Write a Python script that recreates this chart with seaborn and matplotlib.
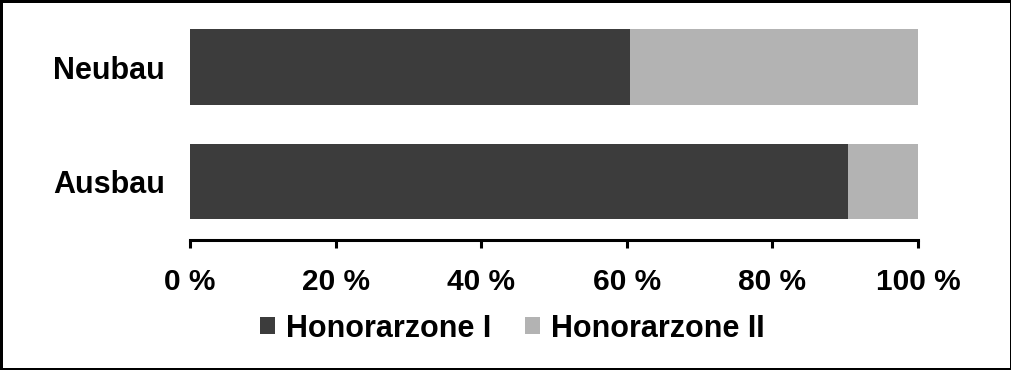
import matplotlib
matplotlib.use('Agg')
import matplotlib.pyplot as plt
import pandas as pd
import seaborn as sns

sns.set_style('white')
plt.rcParams['font.family'] = ['Liberation Sans', 'DejaVu Sans']
plt.rcParams['text.color'] = 'black'
plt.rcParams['xtick.color'] = 'black'
plt.rcParams['ytick.color'] = 'black'

categories = ['Neubau', 'Ausbau']
zone_1 = [60.4, 90.4]   # Honorarzone I, percent
zone_2 = [39.6, 9.6]    # Honorarzone II, percent
series_names = ['Honorarzone I', 'Honorarzone II']
x_ticks = [0, 20, 40, 60, 80, 100]

dark = '#3c3c3c'
light = '#b3b3b3'

df = pd.DataFrame({'kategorie': categories, 'z1': zone_1, 'z2': zone_2})
df['total'] = df.z1 + df.z2

fig = plt.figure(figsize=(10.12, 3.7), dpi=100, linewidth=2.5, edgecolor='black')
ax = fig.add_axes([0.1877, 0.3514, 0.7194, 0.6216])

# stacked bars: total in light grey underneath, zone I on top
sns.barplot(data=df, y='kategorie', x='total', color=light, width=0.66,
            orient='h', ax=ax, saturation=1, label=series_names[1], linewidth=0)
sns.barplot(data=df, y='kategorie', x='z1', color=dark, width=0.66,
            orient='h', ax=ax, saturation=1, label=series_names[0], linewidth=0)
if ax.get_legend() is not None:
    ax.get_legend().remove()

ax.set_xlim(0, 100)
ax.set_ylim(1.51, -0.5)
ax.set_xlabel('')
ax.set_ylabel('')
ax.set_xticks(x_ticks)
ax.set_xticklabels([f'{t} %' for t in x_ticks], fontsize=21.5, fontweight='bold')
for lab in ax.get_yticklabels():
    lab.set_fontsize(22)
    lab.set_fontweight('bold')

for s in ['top', 'right', 'left']:
    ax.spines[s].set_visible(False)
ax.spines['bottom'].set_linewidth(2.2)
ax.spines['bottom'].set_color('black')
ax.tick_params(axis='x', bottom=True, direction='out', length=6, width=2.2,
               pad=14, color='black')
ax.tick_params(axis='y', left=False, length=0, pad=18)

handles, labels = ax.get_legend_handles_labels()
order = [labels.index(n) for n in series_names]
fig.legend([handles[i] for i in order], [labels[i] for i in order],
           loc='center', bbox_to_anchor=(0.506, 0.112), ncol=2, frameon=False,
           handlelength=0.5, handleheight=0.5, handletextpad=0.35, columnspacing=1.1,
           prop={'size': 22, 'weight': 'bold'})

fig.savefig('out.png', dpi=100, edgecolor=fig.get_edgecolor())
